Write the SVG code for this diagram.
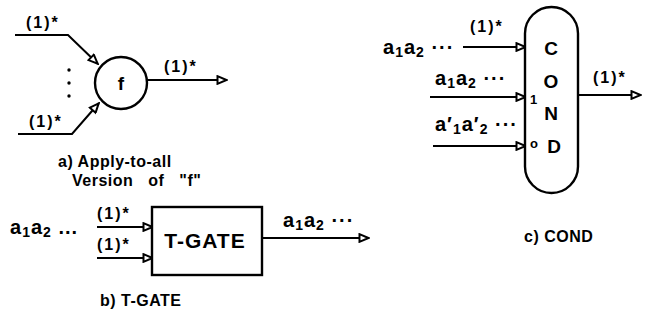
<svg xmlns="http://www.w3.org/2000/svg" width="652" height="320" viewBox="0 0 652 320">
  <defs>
    <marker id="arrow" viewBox="0 0 12 10" refX="11" refY="5" markerWidth="12" markerHeight="10" markerUnits="userSpaceOnUse" orient="auto">
      <path d="M1.5,1.2 L10.5,5 L1.5,8.8 Z" fill="#fff" stroke="#000" stroke-width="2" stroke-linejoin="miter"/>
    </marker>
    <style>
      .wire { fill: none; stroke: #000; stroke-width: 2; marker-end: url(#arrow); }
      .shape { fill: #fff; stroke: #000; stroke-width: 2.4; }
      text { font-family: "Liberation Sans", Arial, sans-serif; font-weight: bold; fill: #000; }
      .lbl { font-size: 16px; letter-spacing: 2px; }
      .seq { font-size: 20px; letter-spacing: 1px; }
      .seq .sub { font-size: 14px; }
      .cap { font-size: 16px; letter-spacing: 0.5px; }
      .wide { word-spacing: 10px; }
      .big { font-size: 21px; letter-spacing: 1px; }
      .letter { font-size: 19px; }
      .pin { font-size: 13px; }
    </style>
  </defs>

  <rect width="652" height="320" fill="#fff"/>

  <!-- connectors -->
  <g id="connectors">
    <!-- a) apply-to-all -->
    <polyline class="wire" points="15,35 68,35 98,64"/>
    <polyline class="wire" points="18,134 72,134 99,103"/>
    <line class="wire" x1="147" y1="80" x2="227" y2="80"/>
    <!-- b) T-GATE -->
    <line class="wire" x1="97" y1="227" x2="153" y2="227"/>
    <line class="wire" x1="97" y1="258" x2="153" y2="258"/>
    <line class="wire" x1="262" y1="238" x2="369" y2="238"/>
    <!-- c) COND -->
    <line class="wire" x1="463" y1="47" x2="526" y2="47"/>
    <line class="wire" x1="430" y1="97" x2="526" y2="97"/>
    <line class="wire" x1="433" y1="146" x2="526" y2="146"/>
    <line class="wire" x1="578" y1="95" x2="641" y2="95"/>
  </g>

  <!-- a) apply-to-all version of f -->
  <g id="node-f">
    <circle class="shape" cx="121" cy="83" r="26"/>
    <text x="121" y="90" text-anchor="middle" class="letter">f</text>
  </g>
  <g id="labels-a">
    <text x="26" y="28" class="lbl">(1)*</text>
    <text x="29" y="127" class="lbl">(1)*</text>
    <text x="164" y="72" class="lbl">(1)*</text>
    <circle cx="69" cy="70" r="1.7"/>
    <circle cx="69" cy="83" r="1.7"/>
    <circle cx="69" cy="96" r="1.7"/>
    <text x="58" y="167" class="cap">a) Apply-to-all</text>
    <text x="72" y="186" class="cap wide">Version of "f"</text>
  </g>

  <!-- b) T-GATE -->
  <g id="node-tgate">
    <rect class="shape" x="152" y="207" width="110" height="68"/>
    <text x="205" y="248" text-anchor="middle" class="big">T-GATE</text>
  </g>
  <g id="labels-b">
    <text x="10" y="234" class="seq">a<tspan class="sub" dy="3">1</tspan><tspan dy="-3">a</tspan><tspan class="sub" dy="3">2</tspan><tspan dy="-3"> ...</tspan></text>
    <text x="97" y="219" class="lbl">(1)*</text>
    <text x="97" y="250" class="lbl">(1)*</text>
    <text x="283" y="227" class="seq">a<tspan class="sub" dy="3">1</tspan><tspan dy="-3">a</tspan><tspan class="sub" dy="3">2</tspan><tspan dy="-3"> ···</tspan></text>
    <text x="100" y="306" class="cap">b) T-GATE</text>
  </g>

  <!-- c) COND -->
  <g id="node-cond">
    <rect class="shape" x="525" y="7" width="53" height="186" rx="26.5" ry="26.5"/>
    <text x="551" y="55" text-anchor="middle" class="letter">C</text>
    <text x="551" y="88" text-anchor="middle" class="letter">O</text>
    <text x="551" y="120" text-anchor="middle" class="letter">N</text>
    <text x="554" y="153" text-anchor="middle" class="letter">D</text>
    <text x="530" y="104" class="pin">1</text>
    <text x="530" y="148" class="pin">o</text>
  </g>
  <g id="labels-c">
    <text x="383" y="54" class="seq">a<tspan class="sub" dy="3">1</tspan><tspan dy="-3">a</tspan><tspan class="sub" dy="3">2</tspan><tspan dy="-3"> ···</tspan></text>
    <text x="470" y="32" class="lbl">(1)*</text>
    <text x="435" y="85" class="seq">a<tspan class="sub" dy="3">1</tspan><tspan dy="-3">a</tspan><tspan class="sub" dy="3">2</tspan><tspan dy="-3"> ···</tspan></text>
    <text x="435" y="131" class="seq">a′<tspan class="sub" dy="3">1</tspan><tspan dy="-3">a′</tspan><tspan class="sub" dy="3">2</tspan><tspan dy="-3"> ···</tspan></text>
    <text x="593" y="83" class="lbl">(1)*</text>
    <text x="524" y="242" class="cap">c) COND</text>
  </g>
</svg>
